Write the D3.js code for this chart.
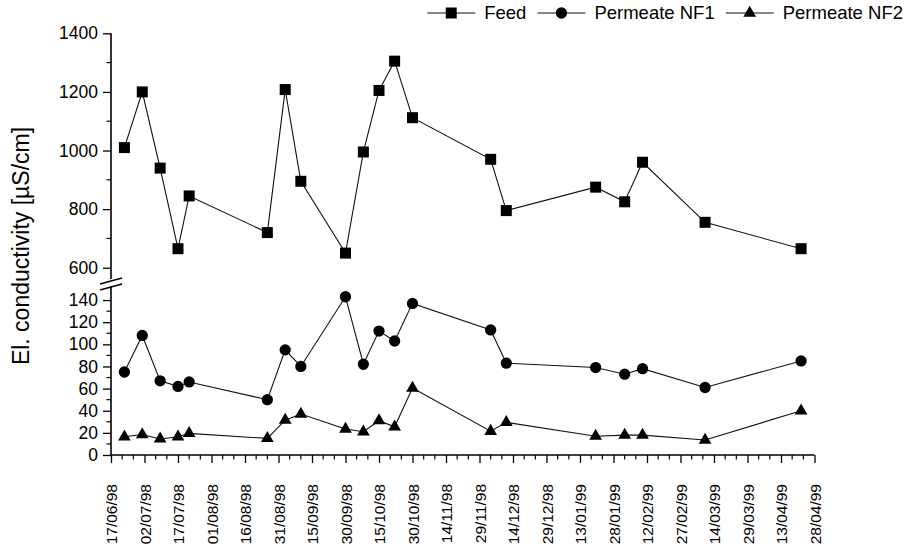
<!DOCTYPE html>
<html>
<head>
<meta charset="utf-8">
<script src="https://cdn.jsdelivr.net/npm/d3@7"></script>
<style>
  body { margin: 0; background: #fff; }
  svg { display: block; }
  text { font-family: "Liberation Sans", Arial, Helvetica, sans-serif; fill: #000; }
</style>
</head>
<body>
<svg id="chart" width="908" height="555"></svg>
<script>
// Sampling dates (dd/mm/yy)
const sampleDates = [
  "23/06/98", "01/07/98", "09/07/98", "17/07/98", "22/07/98", "26/08/98",
  "03/09/98", "10/09/98", "30/09/98", "08/10/98", "15/10/98", "22/10/98",
  "30/10/98", "04/12/98", "11/12/98", "20/01/99", "02/02/99", "10/02/99",
  "10/03/99", "22/04/99"
];

// Electrical conductivity, µS/cm
const feed = [
  1010, 1200, 940, 665, 845, 720, 1208, 895, 650, 995, 1205, 1305,
  1112, 970, 795, 875, 825, 960, 755, 665
];
const permeateNF1 = [
  75, 108, 67, 62, 66, 50, 95, 80, 143, 82, 112, 103,
  137, 113, 83, 79, 73, 78, 61, 85
];
const permeateNF2 = [
  16.5, 18.5, 14.5, 16.5, 19.5, 15, 31.5, 37, 23.5, 21, 31, 25.5,
  60.5, 21.5, 29.5, 17, 18, 18, 13.5, 40
];

const seriesNames = ["Feed", "Permeate NF1", "Permeate NF2"];

// Axis tick labels
const xTickLabels = [
  "17/06/98", "02/07/98", "17/07/98", "01/08/98", "16/08/98", "31/08/98",
  "15/09/98", "30/09/98", "15/10/98", "30/10/98", "14/11/98", "29/11/98",
  "14/12/98", "29/12/98", "13/01/99", "28/01/99", "12/02/99", "27/02/99",
  "14/03/99", "29/03/99", "13/04/99", "28/04/99"
];
const upperTicks = [600, 800, 1000, 1200, 1400];
const upperMinor = [700, 900, 1100, 1300];
const lowerTicks = [0, 20, 40, 60, 80, 100, 120, 140];
const lowerMinor = [10, 30, 50, 70, 90, 110, 130];

const parse = d3.timeParse("%d/%m/%y");
const dates = sampleDates.map(parse);
const tickDates = xTickLabels.map(parse);

const svg = d3.select("#chart");

const axisLeft = 111;
const axisBottom = 455;

const x = d3.scaleTime()
  .domain([tickDates[0], tickDates[tickDates.length - 1]])
  .range([axisLeft, 814.5]);

// Broken y-axis: upper panel for feed, lower panel for permeates
const yUpper = d3.scaleLinear().domain([565, 1400]).range([278, 33.3]);
const yLower = d3.scaleLinear().domain([0, 150]).range([axisBottom, 289]);

const ink = "#000";

// ---- X axis ----
const xAxis = d3.axisBottom(x)
  .tickValues(tickDates)
  .tickSize(8)
  .tickFormat(d3.timeFormat("%d/%m/%y"));
const gx = svg.append("g")
  .attr("transform", `translate(0,${axisBottom})`)
  .call(xAxis);
gx.select(".domain").attr("stroke", ink).attr("stroke-width", 1.6)
  .attr("d", `M${axisLeft},0H${x.range()[1]}`);
gx.selectAll(".tick line").attr("stroke", ink).attr("stroke-width", 1.3);
gx.selectAll(".tick text")
  .attr("font-size", 15.5)
  .attr("transform", "rotate(-90)")
  .attr("text-anchor", "end")
  .attr("x", -29)
  .attr("y", 0)
  .attr("dy", "0.36em");

// minor ticks every 5 days
const minorDays = d3.timeDay.range(tickDates[0], d3.timeDay.offset(tickDates[tickDates.length - 1], 1))
  .filter((d, i) => i % 5 === 0 && i % 15 !== 0);
gx.selectAll(".minor")
  .data(minorDays)
  .join("line")
  .attr("class", "minor")
  .attr("x1", d => x(d)).attr("x2", d => x(d))
  .attr("y1", 0).attr("y2", 4.5)
  .attr("stroke", ink).attr("stroke-width", 1.2);

// ---- Y axes ----
function drawYAxis(scale, majors, minors, top, bottom) {
  const g = svg.append("g").attr("transform", `translate(${axisLeft},0)`);
  g.call(d3.axisLeft(scale).tickValues(majors).tickSize(8).tickPadding(5)
    .tickFormat(d3.format("d")));
  g.select(".domain").attr("stroke", ink).attr("stroke-width", 1.6)
    .attr("d", `M0,${top}V${bottom}`);
  g.selectAll(".tick line").attr("stroke", ink).attr("stroke-width", 1.3);
  g.selectAll(".tick text").attr("font-size", 17.5);
  g.selectAll(".minor")
    .data(minors)
    .join("line")
    .attr("class", "minor")
    .attr("x1", -4.5).attr("x2", 0)
    .attr("y1", d => scale(d)).attr("y2", d => scale(d))
    .attr("stroke", ink).attr("stroke-width", 1.2);
}
drawYAxis(yUpper, upperTicks, upperMinor, yUpper(1400), 279);
drawYAxis(yLower, lowerTicks, lowerMinor, 286, axisBottom);

// axis break marks
svg.append("g").selectAll("line")
  .data([0, 6])
  .join("line")
  .attr("x1", axisLeft - 11).attr("x2", axisLeft + 11)
  .attr("y1", d => 284 + d).attr("y2", d => 278 + d)
  .attr("stroke", ink).attr("stroke-width", 1.4);

// y axis title
svg.append("text")
  .attr("transform", "translate(29,246) rotate(-90)")
  .attr("text-anchor", "middle")
  .attr("font-size", 23)
  .text("El. conductivity [µS/cm]");

// ---- Series ----
const series = [
  { name: seriesNames[0], values: feed, y: yUpper, symbol: d3.symbolSquare, size: 121 },
  { name: seriesNames[1], values: permeateNF1, y: yLower, symbol: d3.symbolCircle, size: 100 },
  { name: seriesNames[2], values: permeateNF2, y: yLower, symbol: d3.symbolTriangle, size: 70 }
];

series.forEach(s => {
  const pts = dates.map((d, i) => [x(d), s.y(s.values[i])]);
  svg.append("path")
    .attr("d", d3.line()(pts))
    .attr("fill", "none")
    .attr("stroke", "#111")
    .attr("stroke-width", 1.1);
  svg.append("g").selectAll("path")
    .data(pts)
    .join("path")
    .attr("transform", p => `translate(${p[0]},${p[1]})`)
    .attr("d", d3.symbol(s.symbol, s.size)())
    .attr("fill", ink);
});

// ---- Legend (right-aligned along the top) ----
const legend = svg.append("g").attr("transform", "translate(0,13)");
let cursor = 903;
const legendItems = series.slice().reverse();
legendItems.forEach(s => {
  const t = legend.append("text")
    .attr("font-size", 18.5)
    .attr("dy", "0.35em")
    .text(s.name);
  const w = t.node().getComputedTextLength();
  t.attr("x", cursor - w);
  const lineEnd = cursor - w - 9;
  const lineStart = lineEnd - 48;
  legend.append("line")
    .attr("x1", lineStart).attr("x2", lineEnd)
    .attr("y1", 0).attr("y2", 0)
    .attr("stroke", "#111").attr("stroke-width", 1.1);
  legend.append("path")
    .attr("transform", `translate(${(lineStart + lineEnd) / 2},0)`)
    .attr("d", d3.symbol(s.symbol, s.size)())
    .attr("fill", ink);
  cursor = lineStart - 11;
});
</script>
</body>
</html>
